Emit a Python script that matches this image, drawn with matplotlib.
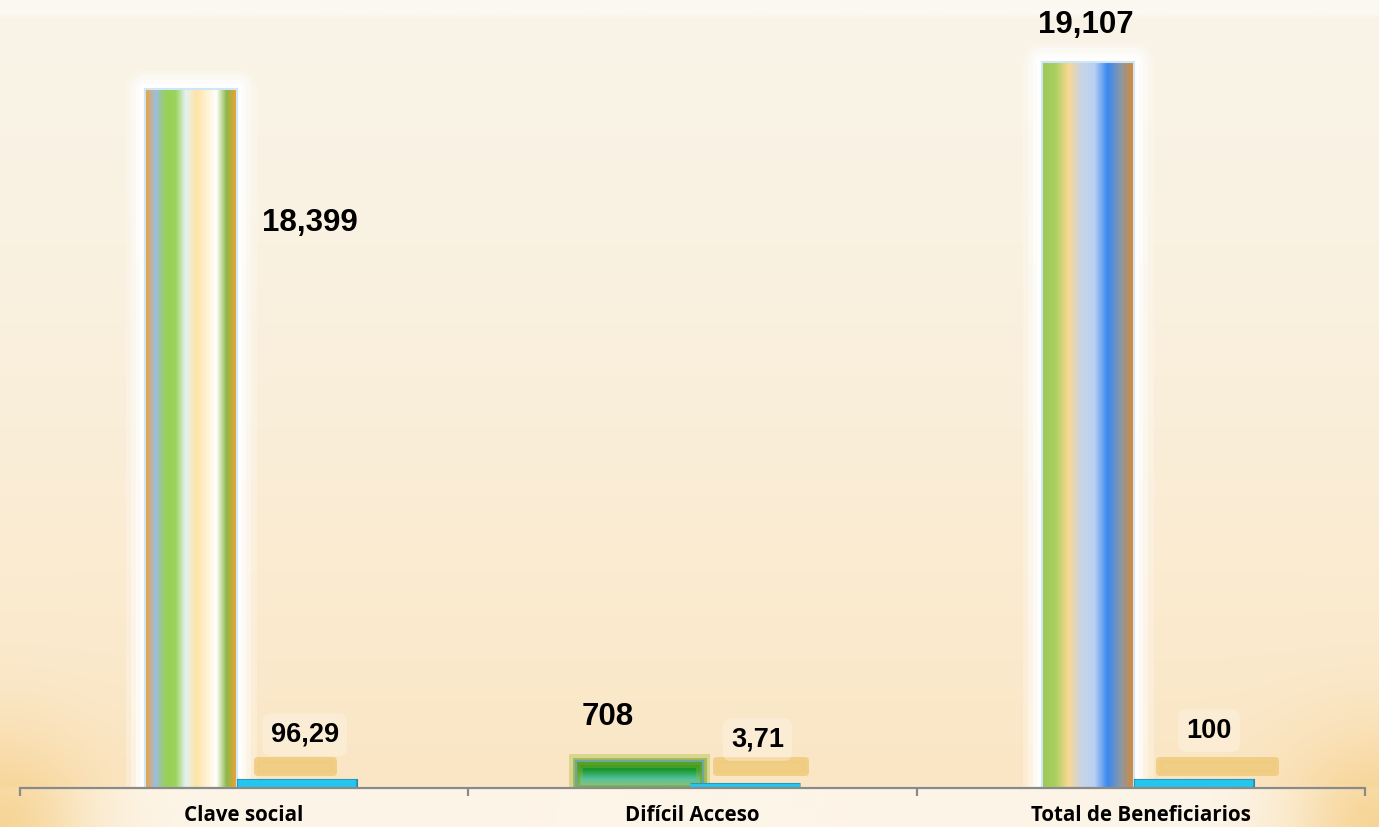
import numpy as np
import matplotlib.pyplot as plt
from matplotlib.colors import LinearSegmentedColormap, to_rgb
import matplotlib.patheffects as pe

# data
categories = ['Clave social', 'Difícil Acceso', 'Total de Beneficiarios']
beneficiarios = [18399, 708, 19107]
porcentaje = [96.29, 3.71, 100]
count_labels = ['18,399', '708', '19,107']
pct_labels = ['96,29', '3,71', '100']

# stripe colours of each count bar (left to right / top to bottom for the green one)
stripes = [
    ['#f5a030', '#9dbde0', '#98d058', '#9ad45a', '#e6f1f6', '#fde4a6', '#fff1d0', '#ffffff', '#8cb848', '#f5a030'],
    ['#0a8a14', '#1a9a30', '#56c0a0', '#7ad0c0'],
    ['#9cc858', '#a8d060', '#fad890', '#c8d4e6', '#b8d0f4', '#3a88f0', '#8a98a8', '#d88a30'],
]

fig = plt.figure(figsize=(13.79, 8.27), dpi=100)

# background gradient
bg = fig.add_axes([0, 0, 1, 1])
bg.set_axis_off()
H, W = 207, 345
yy, xx = np.mgrid[0:H, 0:W] / np.array([H - 1, W - 1])[:, None, None]
top = np.array(to_rgb('#f9f4e8'))
bot = np.array(to_rgb('#fbe6c4'))
t = np.clip(yy / 0.95, 0, 1)[..., None] ** 1.4
img = top * (1 - t) + bot * t
img[yy < 0.018] = to_rgb('#fbf8f1')
below = yy > 0.953
img[below] = to_rgb('#fdf5e8')
orange = np.array(to_rgb('#f6d08a'))
for cx in (0.0, 1.0):
    d = np.sqrt(((xx - cx) * 1.67) ** 2 + (yy - 1.0) ** 2)
    g = np.exp(-(d / 0.11) ** 2)[..., None] * 0.85
    img = img * (1 - g) + orange * g
bg.imshow(img, extent=[0, 1, 0, 1], aspect='auto', interpolation='bilinear')
bg.set_xlim(0, 1)
bg.set_ylim(0, 1)

ax = fig.add_axes([0.0145, 0.0472, 0.9753, 0.9347])
ax.patch.set_alpha(0)

x = np.arange(len(categories))
w_cnt = np.array([0.205, 0.283, 0.205])
w_pct, off = 0.245, 0.118

# soft white glow round the tall count bars
glow_w = np.where(np.array(beneficiarios) > 5000, w_cnt, 0)
for lw, a in [(28, 0.25), (20, 0.4), (13, 0.6), (7, 0.9)]:
    ax.bar(x - off, beneficiarios, glow_w, color='none', edgecolor='white',
           linewidth=lw, alpha=a, joinstyle='round', zorder=2)
bars = ax.bar(x - off, beneficiarios, w_cnt, color='none', edgecolor='#cfe6f6',
              linewidth=1.5, zorder=4)
for i, p in enumerate(bars):
    cmap = LinearSegmentedColormap.from_list('s%d' % i, stripes[i])
    bx, bw, bh = p.get_x(), p.get_width(), p.get_height()
    if i == 1:
        grad = np.linspace(0, 1, 64)[:, None]
        p.set_edgecolor('#6aa8a0')
        p.set_path_effects([pe.withStroke(linewidth=10, foreground='#98b828', alpha=0.35),
                            pe.withStroke(linewidth=5, foreground='#7aa020', alpha=0.5),
                            pe.Normal()])
    else:
        grad = np.linspace(0, 1, 256)[None, :]
    ax.imshow(grad, cmap=cmap, extent=[bx, bx + bw, 0, bh], aspect='auto',
              interpolation='bilinear', zorder=3)

# shadow strips behind percentage labels
strip_x = np.array([0.114, 0.152, 0.170])
strip_w = np.array([0.170, 0.197, 0.259])
ax.bar(x + strip_x, 300, strip_w, bottom=430, color='#f0cc80', edgecolor='#f0cc80',
       linewidth=5, joinstyle='round', alpha=0.9, zorder=2)
ax.bar(x + off, porcentaje, w_pct, color='#22c6ee', edgecolor='#22c6ee',
       linewidth=6, zorder=5,
       path_effects=[pe.withStroke(linewidth=8, foreground='#2a88a8'), pe.Normal()])

txt = dict(ha='center', va='center', fontweight='bold', family='Liberation Sans', zorder=6)
cnt_pos = [(x[0] + 0.147, 18399 * 0.808), (x[1] - 0.19, 708 + 1150), (x[2] - 0.123, 19107 + 990)]
for (px, py), s in zip(cnt_pos, count_labels):
    ax.text(px, py, s, fontsize=22.5, **txt)
pct_pos = [(x[0] + 0.135, 1400), (x[1] + 0.145, 1270), (x[2] + 0.152, 1510)]
for (px, py), s in zip(pct_pos, pct_labels):
    ax.text(px, py, s, fontsize=19.5,
            bbox=dict(boxstyle='round,pad=0.3', fc='#fffaf0', ec='none', alpha=0.35), **txt)

ax.set_xlim(-0.5, 2.5)
ax.set_ylim(0, 20350)
ax.set_yticks([])
for s in ['top', 'left', 'right']:
    ax.spines[s].set_visible(False)
ax.spines['bottom'].set_color('#8a8a8a')
ax.spines['bottom'].set_linewidth(1.6)
ax.spines['bottom'].set_zorder(7)
ax.set_xticks(x)
ax.set_xticklabels(categories, fontsize=14.8, fontweight='bold', family='Open Sans')
ax.tick_params(axis='x', which='major', length=0, pad=12)
ax.set_xticks([-0.5, 0.5, 1.5, 2.5], minor=True)
ax.tick_params(axis='x', which='minor', length=6, width=1.6, color='#8a8a8a')

fig.savefig('out.png', dpi=100)
